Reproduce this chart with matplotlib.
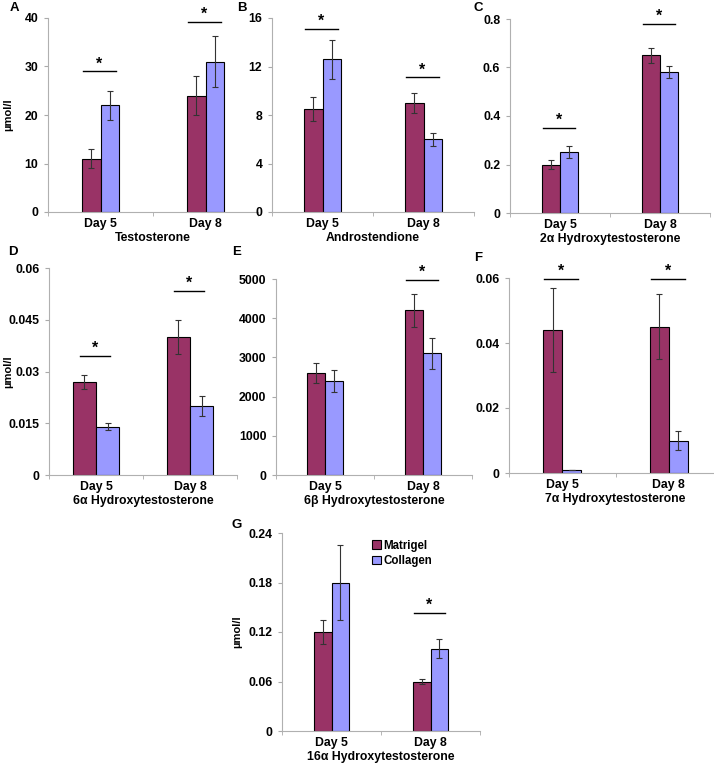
import matplotlib
matplotlib.use('Agg')
import matplotlib.pyplot as plt
import numpy as np

plt.rcParams['font.family'] = ['Liberation Sans', 'DejaVu Sans']
plt.rcParams['font.weight'] = 'bold'

days = ['Day 5', 'Day 8']
series = ['Matrigel', 'Collagen']
colors = ['#993366', '#9999ff']

names = ['Testosterone', 'Androstendione', '2\u03b1 Hydroxytestosterone',
         '6\u03b1 Hydroxytestosterone', '6\u03b2 Hydroxytestosterone',
         '7\u03b1 Hydroxytestosterone', '16\u03b1 Hydroxytestosterone']
letters = ['A', 'B', 'C', 'D', 'E', 'F', 'G']

matrigel = [[11, 24], [8.5, 9.0], [0.20, 0.65], [0.027, 0.040],
            [2600, 4200], [0.044, 0.045], [0.12, 0.06]]
matrigel_err = [[2, 4], [1.0, 0.8], [0.02, 0.03], [0.002, 0.005],
                [250, 420], [0.013, 0.010], [0.015, 0.003]]
collagen = [[22, 31], [12.6, 6.0], [0.25, 0.58], [0.014, 0.020],
            [2400, 3100], [0.001, 0.010], [0.18, 0.10]]
collagen_err = [[3, 5.3], [1.6, 0.55], [0.025, 0.025], [0.001, 0.003],
                [270, 390], [0, 0.003], [0.045, 0.011]]

ymax = [40, 16, 0.8, 0.06, 5000, 0.06, 0.24]
ystep = [10, 4, 0.2, 0.015, 1000, 0.02, 0.06]
ytick_fmt = ['{:.0f}', '{:.0f}', '{:g}', '{:g}', '{:.0f}', '{:g}', '{:g}']

# significance markers: (category, height)
sig = [[(0, 29), (1, 39.2)], [(0, 15.1), (1, 11.1)], [(0, 0.35), (1, 0.78)],
       [(0, 0.0346), (1, 0.0534)], [(1, 4980)], [(0, 0.0598), (1, 0.0598)],
       [(1, 0.143)]]

W, H = 714, 765
fig = plt.figure(figsize=(W / 100, H / 100), dpi=100)

# axes boxes in pixels: left, right, top, bottom
boxes = [(48, 258, 18, 212), (272, 474, 18, 212), (510, 710, 19, 213),
         (49, 237, 268, 475), (276, 472, 279, 475), (509, 722, 278, 473),
         (282, 480, 533, 731)]
letter_pos = [(10, 8), (237, 8), (474, 8), (8, 252), (232, 252), (474, 258), (232, 525)]
ylabel_x = {0: 8, 3: 8, 6: 237}
barw = [0.18, 0.18, 0.18, 0.245, 0.18, 0.18, 0.18]

x = np.arange(len(days))
for i in range(7):
    l, r, t, b = boxes[i]
    ax = fig.add_axes([l / W, 1 - b / H, (r - l) / W, (b - t) / H])
    w = barw[i]
    ax.bar(x - w / 2, matrigel[i], w, color=colors[0], edgecolor='black', linewidth=0.8,
           label=series[0])
    ax.bar(x + w / 2, collagen[i], w, color=colors[1], edgecolor='black', linewidth=0.8,
           label=series[1])
    ax.errorbar(x - w / 2, matrigel[i], yerr=matrigel_err[i], fmt='none',
                ecolor='#333333', elinewidth=0.8, capsize=2.5, capthick=0.8)
    ax.errorbar(x + w / 2, collagen[i], yerr=collagen_err[i], fmt='none',
                ecolor='#333333', elinewidth=0.8, capsize=2.5, capthick=0.8)
    for c, h in sig[i]:
        ax.plot([c - 0.17, c + 0.15], [h, h], color='black', lw=1, clip_on=False)
        ax.text(c - 0.01, h, '*', ha='center', va='bottom', fontsize=11.5,
                fontweight='bold')

    ax.set_xlim(-0.5, 1.5)
    ax.set_ylim(0, ymax[i])
    ticks = np.arange(0, ymax[i] + ystep[i] / 2, ystep[i])
    ax.set_yticks(ticks)
    ax.set_yticklabels([ytick_fmt[i].format(v) if v != 0 else '0' for v in ticks])
    ax.set_xticks(x)
    ax.set_xticklabels(days)
    ax.set_xticks([-0.5, 0.5, 1.5], minor=True)
    ax.tick_params(axis='x', which='major', length=0, labelsize=8.8, pad=4)
    ax.tick_params(axis='x', which='minor', length=3, color='#aaaaaa', direction='out')
    ax.tick_params(axis='y', length=3, color='#aaaaaa', labelsize=8.8, pad=4)
    for s in ['top', 'right']:
        ax.spines[s].set_visible(False)
    for s in ['left', 'bottom']:
        ax.spines[s].set_color('#b0b0b0')
        ax.spines[s].set_linewidth(0.8)
    ax.set_xlabel(names[i], fontsize=8.8, fontweight='bold', labelpad=1.5)
    if i in ylabel_x:
        fig.text(ylabel_x[i] / W, 1 - (t + b) / 2 / H, '\u00b5mol/l', rotation=90,
                 fontsize=8, fontweight='bold', ha='center', va='center')
    fig.text(letter_pos[i][0] / W, 1 - letter_pos[i][1] / H, letters[i], fontsize=9.5,
             fontweight='bold', ha='left', va='center')
    if i == 6:
        ax.legend(loc='upper left', bbox_to_anchor=(0.43, 0.99), frameon=False,
                  fontsize=8.3, handlelength=0.8, handleheight=0.8, handletextpad=0.2,
                  labelspacing=0.3, borderaxespad=0)

fig.savefig('out.png', dpi=100)
